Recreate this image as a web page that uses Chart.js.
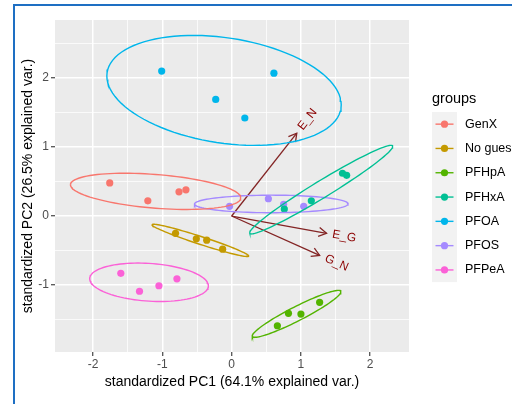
<!DOCTYPE html>
<html>
<head>
<meta charset="utf-8">
<script src="https://cdn.jsdelivr.net/npm/chart.js@4/dist/chart.umd.min.js"></script>
<style>
html,body{margin:0;padding:0;background:#fff;}
#wrap{position:relative;width:512px;height:404px;}
canvas{display:block;}
</style>
</head>
<body>
<div id="wrap"><canvas id="c" width="512" height="404"></canvas></div>
<script>
// ---- data ----
const groups = ['GenX', 'No guess', 'PFHpA', 'PFHxA', 'PFOA', 'PFOS', 'PFPeA'];
const groupColors = ['#F8766D', '#C49A00', '#53B400', '#00C094', '#00B6EB', '#A58AFF', '#FB61D7'];

const pc1GenX = [-1.76, -1.21, -0.76, -0.66];
const pc2GenX = [0.48, 0.22, 0.35, 0.38];
const pc1NoGuess = [-0.81, -0.51, -0.36, -0.13];
const pc2NoGuess = [-0.25, -0.33, -0.35, -0.48];
const pc1PFHpA = [0.66, 0.82, 1.00, 1.27];
const pc2PFHpA = [-1.59, -1.41, -1.42, -1.25];
const pc1PFHxA = [1.60, 1.66, 1.15, 0.76];
const pc2PFHxA = [0.62, 0.59, 0.22, 0.10];
const pc1PFOA = [-1.01, -0.23, 0.19, 0.61];
const pc2PFOA = [2.10, 1.69, 1.42, 2.07];
const pc1PFOS = [-0.03, 0.53, 0.75, 1.04];
const pc2PFOS = [0.14, 0.25, 0.17, 0.14];
const pc1PFPeA = [-1.60, -1.33, -1.05, -0.79];
const pc2PFPeA = [-0.83, -1.09, -1.01, -0.91];

const varNames = ['E_N', 'E_G', 'G_N'];
const varPC1 = [0.94, 1.37, 1.27];
const varPC2 = [1.20, -0.25, -0.57];

const xTickValues = [-2, -1, 0, 1, 2];
const yTickValues = [-1, 0, 1, 2];
const xTitle = 'standardized PC1 (64.1% explained var.)';
const yTitle = 'standardized PC2 (26.5% explained var.)';
const legendTitle = 'groups';
const ELLIPSE_PROB = 0.95;

const pc1All = [pc1GenX, pc1NoGuess, pc1PFHpA, pc1PFHxA, pc1PFOA, pc1PFOS, pc1PFPeA];
const pc2All = [pc2GenX, pc2NoGuess, pc2PFHpA, pc2PFHxA, pc2PFOA, pc2PFOS, pc2PFPeA];

// ---- normal-theory ellipse per group (as ggbiplot does) ----
function ellipseFor(xs, ys) {
  const n = xs.length;
  const mx = xs.reduce((a, b) => a + b, 0) / n;
  const my = ys.reduce((a, b) => a + b, 0) / n;
  let sxx = 0, syy = 0, sxy = 0;
  for (let i = 0; i < n; i++) {
    sxx += (xs[i] - mx) * (xs[i] - mx);
    syy += (ys[i] - my) * (ys[i] - my);
    sxy += (xs[i] - mx) * (ys[i] - my);
  }
  sxx /= (n - 1); syy /= (n - 1); sxy /= (n - 1);
  const r11 = Math.sqrt(sxx), r12 = sxy / r11, r22 = Math.sqrt(Math.max(syy - r12 * r12, 0));
  const ed = Math.sqrt(-2 * Math.log(1 - ELLIPSE_PROB));
  const pts = [];
  const N = 100;
  for (let k = 0; k <= N; k++) {
    const t = -Math.PI + 2 * Math.PI * k / N;
    const c = Math.cos(t), s = Math.sin(t);
    pts.push({ x: mx + ed * c * r11, y: my + ed * (c * r12 + s * r22) });
  }
  return pts;
}

const datasets = [];
groups.forEach((g, i) => {
  datasets.push({
    label: g + ' ellipse', data: ellipseFor(pc1All[i], pc2All[i]),
    showLine: true, pointRadius: 0, borderColor: groupColors[i], borderWidth: 1.4,
    fill: false, order: 0, tension: 0
  });
});
groups.forEach((g, i) => {
  datasets.push({
    label: g, data: pc1All[i].map((v, k) => ({ x: v, y: pc2All[i][k] })),
    showLine: false, pointRadius: 3.6, pointBorderWidth: 0,
    backgroundColor: groupColors[i], borderColor: groupColors[i], order: 1
  });
});
varNames.forEach((v, i) => {
  datasets.push({
    label: v, data: [{ x: 0, y: 0 }, { x: varPC1[i], y: varPC2[i] }],
    showLine: true, pointRadius: 0, borderColor: '#832424', borderWidth: 1.3,
    fill: false, order: 2
  });
});

const FONT = '"Liberation Sans", Arial, Helvetica, sans-serif';
const isInt = v => Math.abs(v - Math.round(v)) < 1e-9;
const isHalf = v => Math.abs(v * 2 - Math.round(v * 2)) < 1e-9;

const decor = {
  id: 'decor',
  beforeDraw(chart) {
    const { ctx, chartArea: a } = chart;
    ctx.save();
    ctx.fillStyle = '#FFFFFF';
    ctx.fillRect(0, 0, chart.width, chart.height);
    ctx.fillStyle = '#EBEBEB';
    ctx.fillRect(a.left, a.top, a.right - a.left, a.bottom - a.top);
    ctx.restore();
  },
  beforeDatasetsDraw(chart) {
    const { ctx, scales: { x, y } } = chart;
    ctx.save();
    ctx.strokeStyle = '#832424';
    ctx.lineWidth = 1.3;
    const x0 = x.getPixelForValue(0), y0 = y.getPixelForValue(0);
    varNames.forEach((v, i) => {
      const px = x.getPixelForValue(varPC1[i]), py = y.getPixelForValue(varPC2[i]);
      const ang = Math.atan2(py - y0, px - x0);
      const L = 9, h = Math.PI / 6;
      ctx.beginPath();
      ctx.moveTo(px - L * Math.cos(ang - h), py - L * Math.sin(ang - h));
      ctx.lineTo(px, py);
      ctx.lineTo(px - L * Math.cos(ang + h), py - L * Math.sin(ang + h));
      ctx.stroke();
    });
    ctx.restore();
  },
  afterDatasetsDraw(chart) {
    const { ctx, scales: { x, y } } = chart;
    ctx.save();
    ctx.fillStyle = '#8B0000';
    ctx.font = '12px ' + FONT;
    ctx.textBaseline = 'middle';
    ctx.textAlign = 'left';
    varNames.forEach((v, i) => {
      const px = x.getPixelForValue(varPC1[i]), py = y.getPixelForValue(varPC2[i]);
      const angle = Math.atan(varPC2[i] / varPC1[i]);
      const w = ctx.measureText(v).width;
      ctx.save();
      ctx.translate(px, py);
      ctx.rotate(-angle);
      ctx.fillText(v, 0.25 * w, 0);
      ctx.restore();
    });
    ctx.restore();
  },
  afterDraw(chart) {
    const { ctx, chartArea: a } = chart;
    ctx.save();
    // axis titles
    ctx.fillStyle = '#000000';
    ctx.font = '14px ' + FONT;
    ctx.textAlign = 'center';
    ctx.textBaseline = 'middle';
    ctx.fillText(xTitle, (a.left + a.right) / 2, 382);
    ctx.save();
    ctx.translate(28, (a.top + a.bottom) / 2);
    ctx.rotate(-Math.PI / 2);
    ctx.fillText(yTitle, 0, 0);
    ctx.restore();
    // legend
    ctx.textAlign = 'left';
    ctx.font = '14.5px ' + FONT;
    ctx.fillText(legendTitle, 432, 99);
    const ky0 = 112, kh = 24.3;
    ctx.fillStyle = '#F2F2F2';
    ctx.fillRect(432, ky0, 25, kh * groups.length);
    ctx.font = '12.5px ' + FONT;
    groups.forEach((g, i) => {
      const cy = ky0 + kh * i + kh / 2;
      ctx.strokeStyle = groupColors[i];
      ctx.lineWidth = 1.4;
      ctx.beginPath(); ctx.moveTo(435.5, cy); ctx.lineTo(453.5, cy); ctx.stroke();
      ctx.fillStyle = groupColors[i];
      ctx.beginPath(); ctx.arc(444.5, cy, 3.6, 0, Math.PI * 2); ctx.fill();
      ctx.fillStyle = '#000000';
      ctx.fillText(g, 465, cy);
    });
    // blue frame
    ctx.fillStyle = '#1E6FC3';
    ctx.fillRect(13, 4, 512 - 13, 2);
    ctx.fillRect(13, 4, 2, 404 - 4);
    ctx.restore();
  }
};

function gridStyle() {
  return {
    drawOnChartArea: true,
    drawTicks: true,
    tickLength: 4,
    color: '#FFFFFF',
    lineWidth: ctx => (isInt(ctx.tick.value) ? 1.5 : 0.75),
    tickColor: ctx => (isInt(ctx.tick.value) ? '#333333' : 'rgba(0,0,0,0)'),
    tickWidth: 1.1
  };
}

new Chart(document.getElementById('c'), {
  type: 'scatter',
  data: { datasets },
  options: {
    responsive: false,
    animation: false,
    devicePixelRatio: 1,
    layout: { padding: { left: 0, top: 20, right: 103, bottom: 0 } },
    plugins: { legend: { display: false }, tooltip: { enabled: false } },
    scales: {
      x: {
        type: 'linear', min: -2.55, max: 2.56,
        border: { display: false },
        grid: gridStyle(),
        afterBuildTicks: s => { s.ticks = s.ticks.filter(t => isHalf(t.value)); },
        afterFit: s => { s.height = 52; },
        ticks: {
          stepSize: 0.5, padding: 1, color: '#4D4D4D', font: { family: FONT, size: 12 },
          maxRotation: 0, autoSkip: false,
          callback: v => (xTickValues.includes(v) ? String(v) : '')
        }
      },
      y: {
        type: 'linear', min: -1.97, max: 2.84,
        border: { display: false },
        grid: gridStyle(),
        afterBuildTicks: s => { s.ticks = s.ticks.filter(t => isHalf(t.value)); },
        afterFit: s => { s.width = 55; },
        ticks: {
          stepSize: 0.5, padding: 2, color: '#4D4D4D', font: { family: FONT, size: 12 },
          autoSkip: false,
          callback: v => (yTickValues.includes(v) ? String(v) : '')
        }
      }
    }
  },
  plugins: [decor]
});
</script>
</body>
</html>
